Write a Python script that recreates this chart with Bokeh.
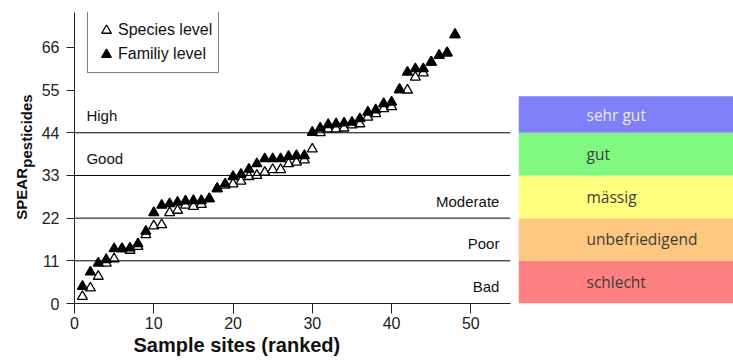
import math
from bokeh.plotting import figure
from bokeh.models import Span, Label, Legend, LegendItem, FixedTicker, Range1d, Title
from bokeh.layouts import row
from bokeh.embed import file_html
from bokeh.resources import INLINE
from bokeh.core.properties import value

# ---- data ----
sites = list(range(1, 49))
family = [4.4, 8.1, 10.4, 11.3, 14.1, 14.1, 14.3, 15.4, 18.6, 23.4,
          25.3, 25.7, 26.1, 26.4, 26.5, 26.5, 27.0, 29.6, 30.8, 32.7,
          33.3, 34.6, 36.0, 37.3, 37.3, 37.3, 37.9, 38.1, 38.1, 44.1,
          45.2, 46.1, 46.3, 46.5, 46.7, 47.6, 49.3, 49.9, 51.5, 51.9,
          55.1, 59.6, 60.5, 60.5, 62.2, 63.9, 64.6, 69.3]
species = [1.8, 4.0, 7.0, 10.4, 11.5, 14.1, 13.7, 14.7, 17.7, 20.0,
           20.3, 23.4, 24.0, 25.3, 25.0, 25.5, 27.0, 29.6, 30.5, 30.8,
           31.5, 32.7, 33.0, 33.8, 34.5, 34.5, 36.0, 36.4, 37.0, 39.8,
           44.0, 45.0, 45.0, 45.2, 46.0, 46.3, 48.0, 48.9, 50.2, 50.7,
           55.1, 55.0, 58.3, 59.4, 62.2, 63.9, 64.6, 69.3]

y_ticks = [0, 11, 22, 33, 44, 55, 66]
x_ticks = [0, 10, 20, 30, 40, 50]
thresholds = [11, 22, 33, 44]

class_en = ["Bad", "Poor", "Moderate", "Good", "High"]
class_lower = [0, 11, 22, 33, 44]
class_upper = [11, 22, 33, 44, 53.4]
class_de = ["schlecht", "unbefriedigend", "mässig", "gut", "sehr gut"]
class_colors = ["#ff8080", "#ffc880", "#ffff80", "#80f880", "#8080f8"]
class_text_colors = ["#3c3c3c", "#3c3c3c", "#3c3c3c", "#3c3c3c", "#e8e8ff"]

FONT = "Liberation Sans"
TOP, BOTTOM = 12, 57

# ---- y-axis title strip ----
yl = figure(width=38, height=360, x_range=Range1d(0, 1), y_range=Range1d(0, 75),
            output_backend="svg", toolbar_location=None,
            x_axis_location=None, y_axis_location=None,
            min_border_left=0, min_border_right=0, min_border_top=TOP, min_border_bottom=BOTTOM)
yl.grid.visible = False
yl.outline_line_color = None
yl.text(x=[0, 0], y=[21.6, 35.0], text=["SPEAR", "pesticides"], x_offset=[21, 26],
        angle=math.pi / 2, text_align="left", text_baseline="alphabetic",
        text_font=value(FONT), text_font_size="15px", text_font_style="bold",
        text_color="#111111")

# ---- main chart ----
p = figure(width=480, height=360, x_range=Range1d(0, 55), y_range=yl.y_range,
           output_backend="svg", toolbar_location=None,
           min_border_left=35, min_border_right=8, min_border_top=TOP, min_border_bottom=BOTTOM)
p.grid.visible = False
p.outline_line_color = None

for ax, ticks in ((p.xaxis[0], x_ticks), (p.yaxis[0], y_ticks)):
    ax.ticker = FixedTicker(ticks=ticks)
    ax.minor_tick_line_color = None
    ax.major_tick_in = 0
    ax.axis_line_color = "#222222"
    ax.major_tick_line_color = "#222222"
    ax.major_label_text_font = FONT
    ax.major_label_text_font_size = "16px"
    ax.major_label_text_color = "#222222"
p.yaxis.major_tick_out = 8
p.yaxis.major_label_standoff = 7
p.xaxis.major_tick_out = 10
p.xaxis.major_label_standoff = 3

p.add_layout(Title(text="Sample sites (ranked)", align="left", offset=59, standoff=0,
                   text_font=FONT, text_font_size="20px", text_font_style="bold",
                   text_color="#111111"), "below")

for t in thresholds:
    p.add_layout(Span(location=t, dimension="width", line_color="black", line_width=1))

r_sp = p.scatter(sites, species, marker="triangle", size=10, fill_color="white",
                 line_color="black", line_width=1.3)
r_fa = p.scatter(sites, family, marker="triangle", size=10, fill_color="black",
                 line_color="black", line_width=1.3)

legend = Legend(items=[LegendItem(label="Species level", renderers=[r_sp]),
                       LegendItem(label="Familiy level", renderers=[r_fa])],
                location=(13, 230), orientation="vertical",
                border_line_color="black", border_line_width=1,
                padding=6, spacing=0, margin=0,
                label_height=24, glyph_height=24, glyph_width=24, label_standoff=0,
                label_text_font=FONT, label_text_font_size="16px", label_text_color="#111111")
p.add_layout(legend)

for name, lo in zip(class_en, class_lower):
    left = name in ("High", "Good")
    p.add_layout(Label(x=1.5 if left else 53.6, y=lo, y_offset=17, text=name,
                       text_align="left" if left else "right", text_baseline="middle",
                       text_font=FONT, text_font_size="15px", text_color="#111111"))

# ---- German class boxes ----
q = figure(width=215, height=360, x_range=Range1d(0, 1), y_range=yl.y_range,
           output_backend="svg", toolbar_location=None,
           x_axis_location=None, y_axis_location=None,
           min_border_left=0, min_border_right=0, min_border_top=TOP, min_border_bottom=BOTTOM)
q.grid.visible = False
q.outline_line_color = None
q.quad(left=0, right=1, bottom=class_lower, top=class_upper,
       fill_color=class_colors, line_color=None)
mids = [(a + b) / 2 for a, b in zip(class_lower, class_upper)]
q.text(x=[0] * len(class_de), y=mids, text=class_de, x_offset=68,
       text_baseline="middle", text_align="left", text_color=class_text_colors,
       text_font=value("Open Sans"), text_font_size="15.5px")

layout = row(yl, p, q)
open("out.html", "w").write(file_html(layout, INLINE))
